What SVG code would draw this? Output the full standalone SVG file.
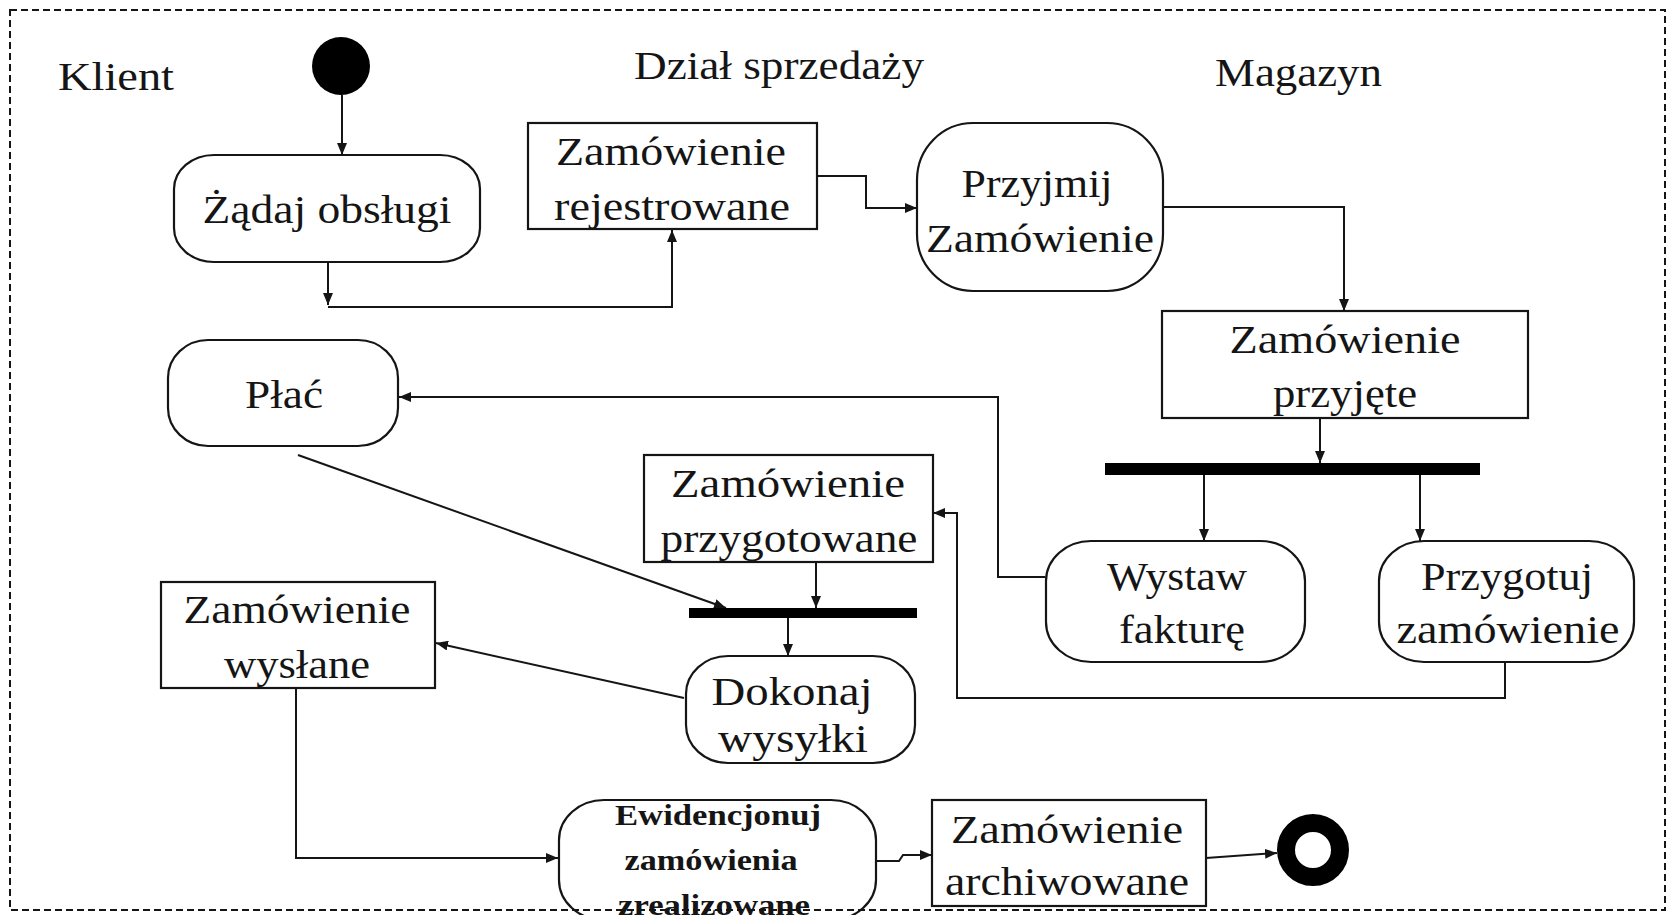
<svg xmlns="http://www.w3.org/2000/svg" width="1669" height="915" viewBox="0 0 1669 915">
  <style>
    .node { fill: #ffffff; stroke: #151515; stroke-width: 2.2; }
    .bar { fill: #000000; }
    .txt { font-family: "Liberation Serif", "Times New Roman", serif; font-size: 40px; fill: #151515; text-anchor: middle; }
    .head { font-family: "Liberation Serif", "Times New Roman", serif; font-size: 40px; fill: #151515; }
    .bold { font-family: "Liberation Serif", "Times New Roman", serif; font-size: 30px; font-weight: bold; fill: #151515; text-anchor: middle; }
    .edge { fill: none; stroke: #151515; stroke-width: 2; marker-end: url(#arrow); }
    .plain { fill: none; stroke: #151515; stroke-width: 2; }
    .frame { fill: none; stroke: #151515; stroke-width: 2; stroke-dasharray: 7 4; }
  </style>
  <defs>
    <marker id="arrow" viewBox="0 0 12 10" refX="12" refY="5" markerWidth="12" markerHeight="10" markerUnits="userSpaceOnUse" orient="auto">
      <path d="M0,0 L12,5 L0,10 Z" fill="#151515"/>
    </marker>
  </defs>

  <rect x="0" y="0" width="1669" height="915" fill="#ffffff"/>

  <!-- swimlane titles -->
  <g id="lanes">
    <text class="head" x="58" y="90" textLength="116" lengthAdjust="spacingAndGlyphs">Klient</text>
    <text class="head" x="634" y="79" textLength="290" lengthAdjust="spacingAndGlyphs">Dział sprzedaży</text>
    <text class="head" x="1215" y="86" textLength="167" lengthAdjust="spacingAndGlyphs">Magazyn</text>
  </g>

  <!-- connectors -->
  <g id="connectors">
    <path class="edge" d="M342,95 V155"/>
    <path class="edge" d="M328,262 V305"/>
    <path class="edge" d="M328,307 H672 V230"/>
    <path class="edge" d="M817,176 H866 V208 H917"/>
    <path class="edge" d="M1163,207 H1344 V311"/>
    <path class="edge" d="M1320,413 V463"/>
    <path class="edge" d="M1204,475 V541"/>
    <path class="edge" d="M1420,475 V541"/>
    <path class="edge" d="M1045,577 H998 V397 H399"/>
    <path class="edge" d="M1505,662 V698 H957 V513 H933"/>
    <path class="edge" d="M298,455 L726,608"/>
    <path class="edge" d="M816,562 V608"/>
    <path class="edge" d="M788,617 V656"/>
    <path class="edge" d="M684,698 L436,643"/>
    <path class="edge" d="M296,688 V858 H558"/>
    <path class="edge" d="M876,861 H899 L903,855 H932"/>
    <path class="edge" d="M1206,858 L1277,853"/>
  </g>

  <!-- initial state -->
  <g id="start">
    <circle cx="341" cy="66" r="29" fill="#000000"/>
  </g>

  <g id="zadaj-obslugi">
    <rect class="node" x="174" y="155" width="306" height="107" rx="40" ry="34"/>
    <text class="txt" x="327" y="223" textLength="249" lengthAdjust="spacingAndGlyphs">Żądaj obsługi</text>
  </g>

  <g id="zamowienie-rejestrowane">
    <rect class="node" x="528" y="123" width="289" height="106"/>
    <text class="txt" x="671" y="165" textLength="230" lengthAdjust="spacingAndGlyphs">Zamówienie</text>
    <text class="txt" x="672" y="220" textLength="236" lengthAdjust="spacingAndGlyphs">rejestrowane</text>
  </g>

  <g id="przyjmij-zamowienie">
    <rect class="node" x="917" y="123" width="246" height="168" rx="56" ry="57"/>
    <text class="txt" x="1037" y="197" textLength="151" lengthAdjust="spacingAndGlyphs">Przyjmij</text>
    <text class="txt" x="1040" y="252" textLength="228" lengthAdjust="spacingAndGlyphs">Zamówienie</text>
  </g>

  <g id="zamowienie-przyjete">
    <rect class="node" x="1162" y="311" width="366" height="107"/>
    <text class="txt" x="1345" y="353" textLength="231" lengthAdjust="spacingAndGlyphs">Zamówienie</text>
    <text class="txt" x="1345" y="407" textLength="144" lengthAdjust="spacingAndGlyphs">przyjęte</text>
  </g>

  <g id="fork">
    <rect class="bar" x="1105" y="463" width="375" height="12"/>
  </g>

  <g id="wystaw-fakture">
    <rect class="node" x="1046" y="541" width="259" height="121" rx="45" ry="40"/>
    <text class="txt" x="1177" y="590" textLength="140" lengthAdjust="spacingAndGlyphs">Wystaw</text>
    <text class="txt" x="1182" y="643" textLength="126" lengthAdjust="spacingAndGlyphs">fakturę</text>
  </g>

  <g id="przygotuj-zamowienie">
    <rect class="node" x="1379" y="541" width="255" height="121" rx="45" ry="40"/>
    <text class="txt" x="1507" y="590" textLength="172" lengthAdjust="spacingAndGlyphs">Przygotuj</text>
    <text class="txt" x="1508" y="643" textLength="223" lengthAdjust="spacingAndGlyphs">zamówienie</text>
  </g>

  <g id="plac">
    <rect class="node" x="168" y="340" width="230" height="106" rx="40" ry="38"/>
    <text class="txt" x="284" y="408" textLength="78" lengthAdjust="spacingAndGlyphs">Płać</text>
  </g>

  <g id="zamowienie-przygotowane">
    <rect class="node" x="644" y="455" width="289" height="107"/>
    <text class="txt" x="788" y="497" textLength="234" lengthAdjust="spacingAndGlyphs">Zamówienie</text>
    <text class="txt" x="789" y="552" textLength="257" lengthAdjust="spacingAndGlyphs">przygotowane</text>
  </g>

  <g id="join">
    <rect class="bar" x="689" y="608" width="228" height="10"/>
  </g>

  <g id="dokonaj-wysylki">
    <rect class="node" x="686" y="656" width="229" height="107" rx="42" ry="38"/>
    <text class="txt" x="792" y="705" textLength="161" lengthAdjust="spacingAndGlyphs">Dokonaj</text>
    <text class="txt" x="793" y="752" textLength="150" lengthAdjust="spacingAndGlyphs">wysyłki</text>
  </g>

  <g id="zamowienie-wyslane">
    <rect class="node" x="161" y="582" width="274" height="106"/>
    <text class="txt" x="297" y="623" textLength="227" lengthAdjust="spacingAndGlyphs">Zamówienie</text>
    <text class="txt" x="297" y="678" textLength="146" lengthAdjust="spacingAndGlyphs">wysłane</text>
  </g>

  <g id="ewidencjonuj">
    <rect class="node" x="559" y="800" width="317" height="120" rx="45" ry="40"/>
    <text class="bold" x="718" y="825" textLength="206" lengthAdjust="spacingAndGlyphs">Ewidencjonuj</text>
    <text class="bold" x="711" y="870" textLength="173" lengthAdjust="spacingAndGlyphs">zamówienia</text>
    <text class="bold" x="714" y="915" textLength="192" lengthAdjust="spacingAndGlyphs">zrealizowane</text>
  </g>

  <g id="zamowienie-archiwowane">
    <rect class="node" x="932" y="800" width="274" height="106"/>
    <text class="txt" x="1067" y="843" textLength="232" lengthAdjust="spacingAndGlyphs">Zamówienie</text>
    <text class="txt" x="1067" y="895" textLength="244" lengthAdjust="spacingAndGlyphs">archiwowane</text>
  </g>

  <!-- final state -->
  <g id="end">
    <circle cx="1313" cy="850" r="27" fill="#ffffff" stroke="#000000" stroke-width="18"/>
  </g>

  <!-- activity frame -->
  <rect class="frame" x="10" y="10" width="1655" height="900"/>
</svg>
